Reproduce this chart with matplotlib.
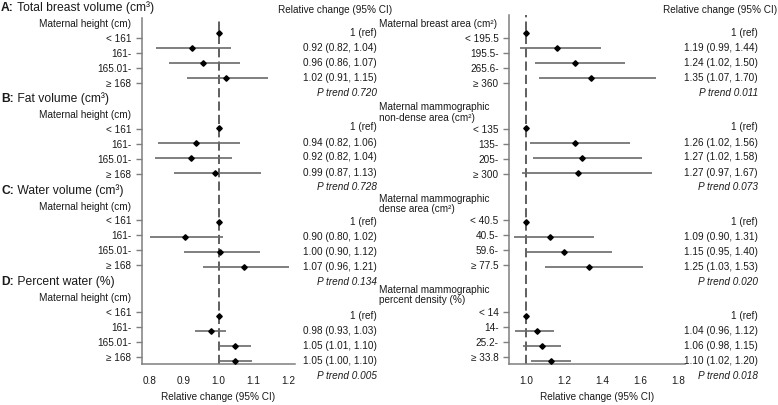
import matplotlib
matplotlib.use("Agg")
import matplotlib.pyplot as plt
from matplotlib.transforms import blended_transform_factory

plt.rcParams['font.family'] = ['Liberation Sans', 'DejaVu Sans']

# ---------------- data ----------------
section_letters = ["A", "B", "C", "D"]
section_titles = ["Total breast volume (cm³)", "Fat volume (cm³)",
                  "Water volume (cm³)", "Percent water (%)"]
height_header = "Maternal height (cm)"
height_labels = ["< 161", "161-", "165.01-", "≥ 168"]

# plotted relative change (point estimate, lower, upper) for maternal height
left_est = [[1.0, 0.924, 0.955, 1.020],
            [1.0, 0.936, 0.921, 0.989],
            [1.0, 0.904, 1.005, 1.072],
            [1.0, 0.979, 1.048, 1.048]]
left_lo = [[1.0, 0.820, 0.857, 0.910],
           [1.0, 0.824, 0.816, 0.872],
           [1.0, 0.803, 0.899, 0.955],
           [1.0, 0.933, 1.000, 1.000]]
left_hi = [[1.0, 1.036, 1.060, 1.142],
           [1.0, 1.062, 1.038, 1.123],
           [1.0, 1.012, 1.118, 1.203],
           [1.0, 1.022, 1.093, 1.096]]
left_text = [["1 (ref)", "0.92 (0.82, 1.04)", "0.96 (0.86, 1.07)", "1.02 (0.91, 1.15)"],
             ["1 (ref)", "0.94 (0.82, 1.06)", "0.92 (0.82, 1.04)", "0.99 (0.87, 1.13)"],
             ["1 (ref)", "0.90 (0.80, 1.02)", "1.00 (0.90, 1.12)", "1.07 (0.96, 1.21)"],
             ["1 (ref)", "0.98 (0.93, 1.03)", "1.05 (1.01, 1.10)", "1.05 (1.00, 1.10)"]]
left_ptrend = ["0.720", "0.728", "0.134", "0.005"]

right_headers = ["Maternal breast area (cm²)",
                 "Maternal mammographic\nnon-dense area (cm²)",
                 "Maternal mammographic\ndense area (cm²)",
                 "Maternal mammographic\npercent density (%)"]
right_labels = [["< 195.5", "195.5-", "265.6-", "≥ 360"],
                ["< 135", "135-", "205-", "≥ 300"],
                ["< 40.5", "40.5-", "59.6-", "≥ 77.5"],
                ["< 14", "14-", "25.2-", "≥ 33.8"]]
right_est = [[1.0, 1.165, 1.260, 1.340],
             [1.0, 1.258, 1.295, 1.276],
             [1.0, 1.127, 1.202, 1.332],
             [1.0, 1.056, 1.083, 1.130]]
right_lo = [[1.0, 0.970, 1.047, 1.069],
            [1.0, 1.021, 1.039, 0.977],
            [1.0, 0.938, 0.995, 1.100],
            [1.0, 0.942, 0.986, 1.026]]
right_hi = [[1.0, 1.397, 1.519, 1.684],
            [1.0, 1.547, 1.610, 1.663],
            [1.0, 1.360, 1.452, 1.614],
            [1.0, 1.148, 1.185, 1.237]]
right_text = [["1 (ref)", "1.19 (0.99, 1.44)", "1.24 (1.02, 1.50)", "1.35 (1.07, 1.70)"],
              ["1 (ref)", "1.26 (1.02, 1.56)", "1.27 (1.02, 1.58)", "1.27 (0.97, 1.67)"],
              ["1 (ref)", "1.09 (0.90, 1.31)", "1.15 (0.95, 1.40)", "1.25 (1.03, 1.53)"],
              ["1 (ref)", "1.04 (0.96, 1.12)", "1.06 (0.98, 1.15)", "1.10 (1.02, 1.20)"]]
right_ptrend = ["0.011", "0.073", "0.020", "0.018"]

left_xticks = [0.8, 0.9, 1.0, 1.1, 1.2]
right_xticks = [1.0, 1.2, 1.4, 1.6, 1.8]
xlabel = "Relative change (95% CI)"
col_header = "Relative change (95% CI)"

# ---------------- layout (pixels) ----------------
W, H = 778, 405
fig = plt.figure(figsize=(W / 100, H / 100), dpi=100)
FS = 7.2
TFS = 8.7
TXT = '#1a1a1a'

ROW0, ROWP, SECP = 37.7, 15.0, 91.3


def tick_y(s, r):
    return ROW0 + SECP * s + ROWP * r


def point_y(s, r):
    return tick_y(s, r) - 4.5 + 3.0 * s


def make_axes(x0, x1, y0, y1):
    ax = fig.add_axes([x0 / W, 1 - y1 / H, (x1 - x0) / W, (y1 - y0) / H])
    ax.set_ylim(y1, y0)  # data y == figure pixel row
    return ax


def draw_panel(ax, est, lo, hi, labels, xlim, xticks):
    ax.set_xlim(*xlim)
    ax.axvline(1.0, color='#444444', lw=1.2, dashes=(5.5, 2.5), zorder=1)
    yt, yl = [], []
    for s in range(4):
        for r in range(4):
            y = point_y(s, r)
            ax.plot([lo[s][r], hi[s][r]], [y, y], color='#6a6a6a', lw=1.2,
                    solid_capstyle='butt', zorder=2)
            ax.plot(est[s][r], y, marker='D', ms=2.8, color='black', zorder=3)
            yt.append(tick_y(s, r))
            yl.append(labels[s][r])
    ax.set_yticks(yt)
    ax.set_yticklabels(yl)
    ax.set_xticks(xticks)
    ax.set_xticklabels([f"{v:.1f}" for v in xticks])
    for sp in ('top', 'right'):
        ax.spines[sp].set_visible(False)
    for sp in ('left', 'bottom'):
        ax.spines[sp].set_color('#7f7f7f')
        ax.spines[sp].set_linewidth(1.1)
    ax.tick_params(axis='y', length=4.5, width=1.0, color='#7f7f7f', pad=3,
                   labelsize=FS, labelcolor=TXT)
    ax.tick_params(axis='x', length=0, pad=8.5, labelsize=FS, labelcolor=TXT)
    ax.set_xlabel(xlabel, fontsize=FS, color=TXT, labelpad=4)


axL = make_axes(141.7, 295.0, 18.3, 364.3)
draw_panel(axL, left_est, left_lo, left_hi, [height_labels] * 4,
           (0.778, 1.220), left_xticks)
axR = make_axes(509.0, 685.0, 15.0, 364.3)
draw_panel(axR, right_est, right_lo, right_hi, right_labels,
           (0.910, 1.838), right_xticks)

trL = blended_transform_factory(fig.transFigure, axL.transData)
trR = blended_transform_factory(fig.transFigure, axR.transData)

for s in range(4):
    # section title: bold letter followed by plain text
    ty = 8.0 + SECP * s
    bold = fig.text(1 / W, 1 - ty / H, section_letters[s] + ":", fontsize=TFS,
                    fontweight='bold', color=TXT, va='center', ha='left')
    axL.annotate(" " + section_titles[s], xy=(1, 0), xycoords=bold,
                 va='bottom', ha='left', fontsize=TFS, color=TXT,
                 annotation_clip=False)
    # left category header
    axL.text(130.7 / W, tick_y(s, 0) - 13.7, height_header, transform=trL,
             ha='right', va='center', fontsize=FS, color=TXT)
    # right category headers
    nl = right_headers[s].count("\n")
    hy = tick_y(s, 0) - (13.7 if nl == 0 else 16.5)
    axR.text(379 / W, hy, right_headers[s], transform=trR, ha='left',
             va='center', fontsize=FS, color=TXT, linespacing=1.05)
    # value texts
    for r in range(4):
        axL.text(377 / W, point_y(s, r), left_text[s][r], transform=trL,
                 ha='right', va='center', fontsize=FS, color=TXT)
        axR.text(758 / W, point_y(s, r), right_text[s][r], transform=trR,
                 ha='right', va='center', fontsize=FS, color=TXT)
    axL.text(377 / W, point_y(s, 4), "P trend " + left_ptrend[s], transform=trL,
             ha='right', va='center', fontsize=FS, color=TXT, style='italic')
    axR.text(758 / W, point_y(s, 4), "P trend " + right_ptrend[s], transform=trR,
             ha='right', va='center', fontsize=FS, color=TXT, style='italic')

fig.text(335 / W, 1 - 10 / H, col_header, ha='center', va='center',
         fontsize=FS, color=TXT)
fig.text(720 / W, 1 - 10 / H, col_header, ha='center', va='center',
         fontsize=FS, color=TXT)

fig.savefig("out.png", dpi=100)
